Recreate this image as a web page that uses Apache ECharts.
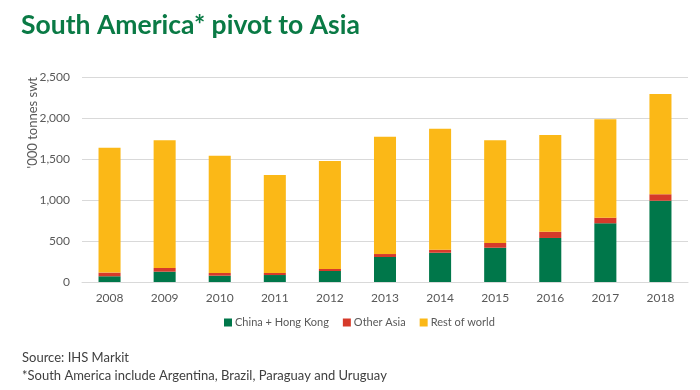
<!DOCTYPE html>
<html><head><meta charset="utf-8">
<script src="https://cdn.jsdelivr.net/npm/echarts@6/dist/echarts.min.js"></script>
<style>html,body{margin:0;padding:0;background:#fff}#c{width:700px;height:390px}</style>
</head><body><div id="c"></div>
<script>
var years = ['2008','2009','2010','2011','2012','2013','2014','2015','2016','2017','2018'];
var chinaHK = [70,126,77,85,134,305,357,418,537,716,991];
var otherAsia = [45,45,33,25,25,36,37,58,76,68,79];
var restOfWorld = [1523,1559,1430,1195,1316,1431,1476,1252,1180,1200,1223];
var seriesNames = ['China + Hong Kong','Other Asia','Rest of world'];
var colors = ['#00774a','#d63a2a','#fbb817'];

var chart = echarts.init(document.getElementById('c'));
var font = 'Lato, "Open Sans", sans-serif';
chart.setOption({
  animation: false,
  title: [
    {text: 'South America* pivot to Asia', left: 16, top: 7,
     textStyle: {fontFamily: font, fontSize: 26.5, fontWeight: 'bold', color: '#0a7a45'}},
    {text: 'Source: IHS Markit\n*South America include Argentina, Brazil, Paraguay and Uruguay', left: 17, top: 344,
     textStyle: {fontFamily: font, fontSize: 13, fontWeight: 'normal', color: '#404040', lineHeight: 18}}
  ],
  graphic: [{type: 'text', left: 26, top: 77, rotation: Math.PI / 2,
    style: {text: "'000 tonnes swt", fontFamily: font, fontSize: 13, fill: '#595959'}}],
  grid: {left: 82, right: 12, top: 77, bottom: 108, containLabel: false, outerBoundsMode: 'none'},
  legend: {bottom: 57, left: 219, itemWidth: 8, itemHeight: 8, itemGap: 14, icon: 'rect',
    textStyle: {fontFamily: font, fontSize: 11, color: '#595959', padding: [0,0,0,-2]}, data: seriesNames},
  xAxis: {type: 'category', data: years,
    axisLine: {lineStyle: {color: '#d9d9d9'}}, axisTick: {show: false},
    axisLabel: {fontFamily: font, fontSize: 12, color: '#595959', margin: 10}},
  yAxis: {type: 'value', min: 0, max: 2500, interval: 500,
    axisLine: {show: false}, axisTick: {show: false},
    axisLabel: {fontFamily: font, fontSize: 12, color: '#595959', margin: 12,
      formatter: function(v){return v.toLocaleString('en-US');}},
    splitLine: {lineStyle: {color: '#d9d9d9'}}},
  series: [
    {name: seriesNames[0], type: 'bar', stack: 'a', data: chinaHK, barWidth: '40%', itemStyle: {color: colors[0]}},
    {name: seriesNames[1], type: 'bar', stack: 'a', data: otherAsia, itemStyle: {color: colors[1]}},
    {name: seriesNames[2], type: 'bar', stack: 'a', data: restOfWorld, itemStyle: {color: colors[2]}}
  ]
});
</script></body></html>
